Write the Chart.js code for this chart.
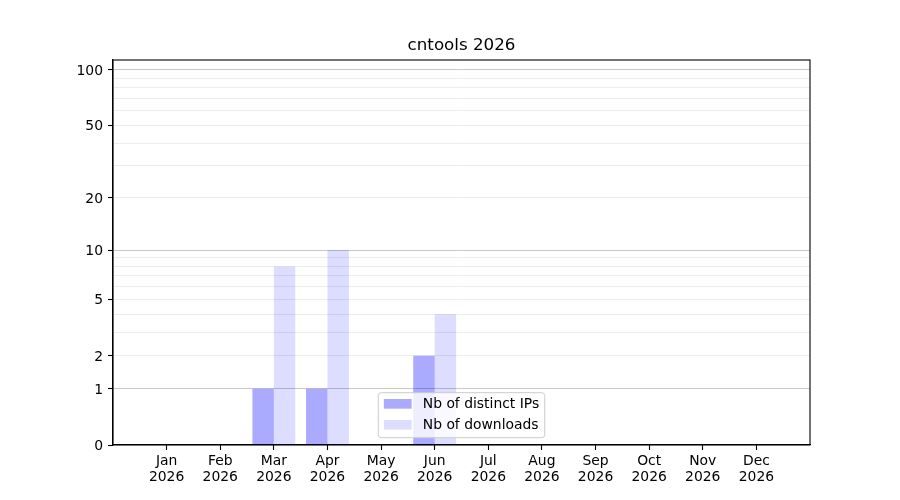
<!DOCTYPE html>
<html>
<head>
<meta charset="utf-8">
<title>cntools 2026</title>
<script src="https://cdn.jsdelivr.net/npm/chart.js@4.4.1/dist/chart.umd.min.js"></script>
<style>
    html, body { margin: 0; padding: 0; background: #fff; }
</style>
</head>
<body>
<canvas id="statsChart" width="900" height="500"></canvas>
<script>
var months = ['Jan', 'Feb', 'Mar', 'Apr', 'May', 'Jun', 'Jul', 'Aug', 'Sep', 'Oct', 'Nov', 'Dec'];
var year = '2026';
var distinctIps = [0, 0, 1, 1, 0, 2, 0, 0, 0, 0, 0, 0];
var downloads = [0, 0, 8, 10, 0, 4, 0, 0, 0, 0, 0, 0];
var yLabelled = [0, 1, 2, 5, 10, 20, 50, 100];
var yMajor = [1, 10, 100];
var yMinor = [2, 3, 4, 5, 6, 7, 8, 9, 20, 30, 40, 50, 60, 70, 80, 90];
var yMax = 113;
var chartTitle = 'cntools 2026';

var FONT = 'DejaVu Sans';
var FS = 13.9;

// y axis: log(1 + v), so 0 sits on the bottom
class Log1pScale extends Chart.LinearScale {
    buildTicks() {
        this.start = this.min;
        this.end = this.max;
        var all = [0].concat(yMajor, yMinor).filter(function (v, i, arr) { return arr.indexOf(v) === i; });
        all.sort(function (a, b) { return a - b; });
        var min = this.min, max = this.max;
        return all.filter(function (v) { return v >= min && v <= max; }).map(function (v) { return { value: v }; });
    }
    configure() {
        super.configure();
        this._lo = Math.log10(1 + this.min);
        this._hi = Math.log10(1 + this.max);
    }
    getPixelForValue(value) {
        return this.getPixelForDecimal((Math.log10(1 + value) - this._lo) / (this._hi - this._lo));
    }
    getValueForPixel(pixel) {
        var d = this.getDecimalForPixel(pixel);
        return Math.pow(10, this._lo + d * (this._hi - this._lo)) - 1;
    }
}
Log1pScale.id = 'log1p';

// x axis: one empty category of room on each side
class WideCategoryScale extends Chart.CategoryScale {
    configure() {
        super.configure();
        this._startValue = this.min - 1;
        this._valueRange = this.max - this.min + 2;
    }
}
WideCategoryScale.id = 'widecategory';

Chart.register(Log1pScale, WideCategoryScale);

var framePlugin = {
    id: 'frame',
    afterDraw: function (chart) {
        var a = chart.chartArea;
        var ctx = chart.ctx;
        ctx.save();
        ctx.strokeStyle = '#000';
        ctx.lineWidth = 1.1;
        ctx.strokeRect(a.left, a.top, a.right - a.left, a.bottom - a.top);
        // title centred over the plot area
        ctx.font = '16.7px "' + FONT + '"';
        ctx.fillStyle = '#000';
        ctx.textAlign = 'center';
        ctx.textBaseline = 'middle';
        ctx.fillText(chartTitle, (a.left + a.right) / 2, 46);
        ctx.restore();
    }
};

var legendPlugin = {
    id: 'boxLegend',
    afterDraw: function (chart) {
        var a = chart.chartArea;
        var ctx = chart.ctx;
        var sets = chart.data.datasets;
        ctx.save();
        ctx.font = FS + 'px "' + FONT + '"';
        var textW = 0;
        sets.forEach(function (ds) { textW = Math.max(textW, ctx.measureText(ds.label).width); });
        var pad = 0.4 * FS, handle = 2.0 * FS, gap = 0.8 * FS, rowH = 21;
        var w = pad + handle + gap + textW + pad;
        var h = 45;
        var x = (a.left + a.right) / 2 - w / 2;
        var y = a.bottom - 7.3 - h;
        ctx.beginPath();
        ctx.roundRect(x, y, w, h, 3);
        ctx.fillStyle = 'rgba(255,255,255,0.8)';
        ctx.fill();
        ctx.strokeStyle = '#cccccc';
        ctx.lineWidth = 1;
        ctx.stroke();
        sets.forEach(function (ds, i) {
            var cy = y + 11.2 + i * rowH;
            ctx.fillStyle = ds.backgroundColor;
            ctx.fillRect(x + pad, cy - 4.9, handle, 9.7);
            ctx.fillStyle = '#000';
            ctx.textBaseline = 'middle';
            ctx.textAlign = 'left';
            ctx.fillText(ds.label, x + pad + handle + gap, cy);
        });
        ctx.restore();
    }
};

Chart.defaults.font.family = FONT;
Chart.defaults.font.size = FS;
Chart.defaults.color = '#000';

var ctx = document.getElementById('statsChart').getContext('2d');
var chart = new Chart(ctx, {
    type: 'bar',
    data: {
        labels: months.map(function (m) { return [m, year]; }),
        datasets: [{
            label: 'Nb of distinct IPs',
            data: distinctIps,
            backgroundColor: 'rgba(0,0,255,0.333)',
            borderWidth: 0
        }, {
            label: 'Nb of downloads',
            data: downloads,
            backgroundColor: 'rgba(0,0,255,0.133)',
            borderWidth: 0
        }]
    },
    options: {
        responsive: false,
        animation: false,
        devicePixelRatio: 1,
        categoryPercentage: 0.8,
        barPercentage: 1.0,
        layout: { padding: { left: 0, right: 90, top: 60, bottom: 0 } },
        plugins: {
            legend: { display: false },
            tooltip: { enabled: false },
            title: { display: false }
        },
        scales: {
            x: {
                type: 'widecategory',
                offset: true,
                grid: {
                    offset: false,
                    drawOnChartArea: false,
                    drawTicks: true,
                    tickLength: 5,
                    tickColor: '#000',
                    tickWidth: 1.1
                },
                border: { color: '#000', width: 1.1 },
                ticks: { padding: 3.5, maxRotation: 0, autoSkip: false, font: { lineHeight: 1.15 } },
                afterFit: function (scale) { scale.height = 55; }
            },
            y: {
                type: 'log1p',
                min: 0,
                max: yMax,
                grid: {
                    color: function (c) {
                        if (c.tick.value === 0) return 'rgba(0,0,0,0)';
                        return yMajor.indexOf(c.tick.value) >= 0 ? '#c8c8c8' : '#ececec';
                    },
                    lineWidth: 1,
                    drawTicks: true,
                    tickLength: 5,
                    tickWidth: 1.1,
                    tickColor: function (c) {
                        return yLabelled.indexOf(c.tick.value) >= 0 ? '#000' : 'rgba(0,0,0,0)';
                    }
                },
                border: { color: '#000', width: 1.1 },
                ticks: {
                    autoSkip: false,
                    padding: 5,
                    labelOffset: 1.5,
                    callback: function (value) {
                        return yLabelled.indexOf(value) >= 0 ? String(value) : '';
                    }
                },
                afterFit: function (scale) { scale.width = 113; }
            }
        }
    },
    plugins: [framePlugin, legendPlugin]
});
</script>
</body>
</html>
